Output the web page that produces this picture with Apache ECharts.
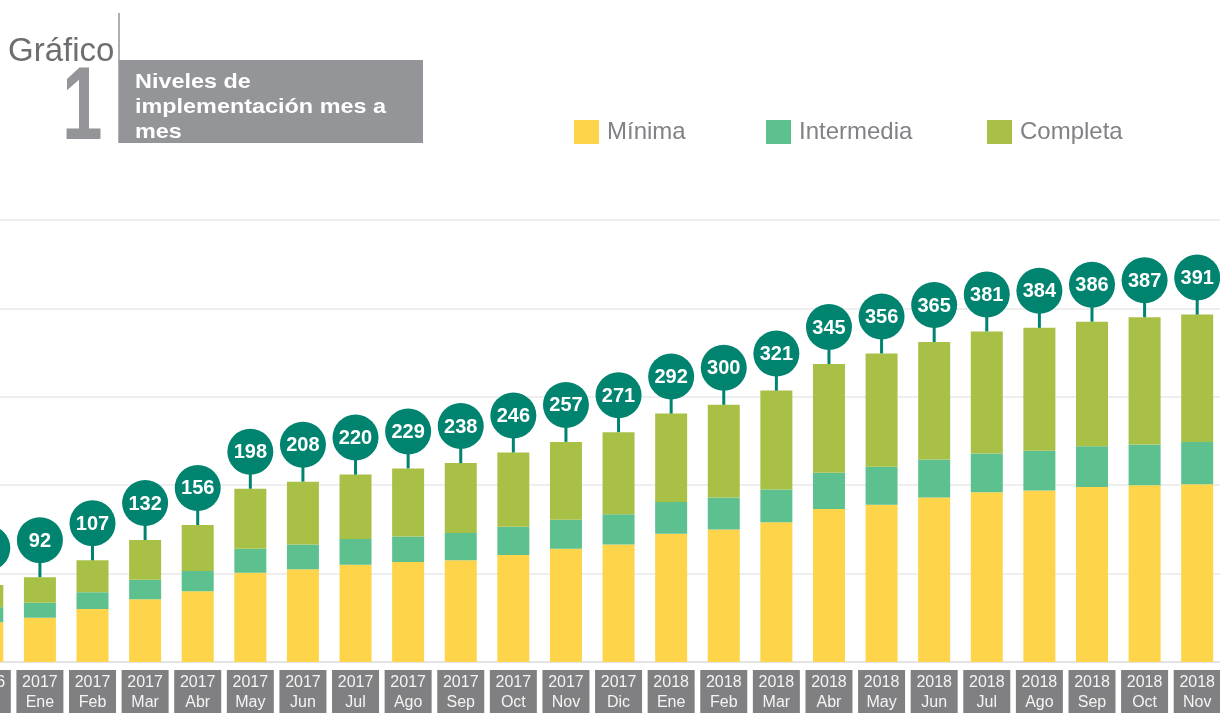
<!DOCTYPE html>
<html>
<head>
<meta charset="utf-8">
<title>Niveles de implementación mes a mes</title>
<script src="https://cdn.jsdelivr.net/npm/echarts@6/dist/echarts.min.js"></script>
<style>
  html, body { margin: 0; padding: 0; background: #fff; }
  #chart { width: 1220px; height: 713px; }
</style>
</head>
<body>
<div id="chart"></div>
<script>
// datos (dic 2016 - nov 2018)
var years = ['2016', '2017', '2017', '2017', '2017', '2017', '2017', '2017', '2017', '2017', '2017', '2017', '2017',
  '2018', '2018', '2018', '2018', '2018', '2018', '2018', '2018', '2018', '2018', '2018']
var months = ['Dic', 'Ene', 'Feb', 'Mar', 'Abr', 'May', 'Jun', 'Jul', 'Ago', 'Sep', 'Oct', 'Nov', 'Dic',
  'Ene', 'Feb', 'Mar', 'Abr', 'May', 'Jun', 'Jul', 'Ago', 'Sep', 'Oct', 'Nov']
var minima = [45, 50, 60, 71, 80, 101, 105, 110, 113, 115, 121, 128, 133,
  145, 150, 158, 173, 178, 186, 192, 194, 198, 200, 201]
var intermedia = [17, 17, 19, 22, 23, 27, 28, 29, 29, 31, 32, 33, 34,
  36, 36, 37, 41, 43, 43, 44, 45, 46, 46, 48]
var completa = [25, 29, 36, 45, 52, 68, 71, 73, 77, 79, 84, 88, 93,
  100, 105, 112, 123, 128, 133, 138, 139, 141, 144, 144]
var totales = [84, 92, 107, 132, 156, 198, 208, 220, 229, 238, 246, 257, 271,
  292, 300, 321, 345, 356, 365, 381, 384, 386, 387, 391]
var yTicks = [0, 100, 200, 300, 400, 500]

var categories = years.map(function (y, i) { return y + '\n' + months[i] })
var burbujas = categories.map(function (c, i) {
  return [i, minima[i] + intermedia[i] + completa[i], totales[i]]
})

var colores = {
  minima: '#fdd44a',
  intermedia: '#5dc18f',
  completa: '#a8c046',
  burbuja: '#00846f',
  gris: '#939598'
}

var chart = echarts.init(document.getElementById('chart'))

function leyenda (nombre, left) {
  return {
    data: [nombre],
    left: left,
    top: 120,
    padding: 0,
    itemWidth: 25,
    itemHeight: 24,
    icon: 'rect',
    selectedMode: false,
    textStyle: {
      color: '#808285',
      fontSize: 24,
      fontFamily: 'Liberation Sans',
      padding: [0, 0, 0, 3]
    }
  }
}

var option = {
  animation: false,
  backgroundColor: '#fff',
  textStyle: { fontFamily: 'Liberation Sans' },
  legend: [
    leyenda('Mínima', 574),
    leyenda('Intermedia', 766),
    leyenda('Completa', 987)
  ],
  grid: {
    left: -39,
    right: -3.5,
    top: 220,
    bottom: 51,
    outerBoundsMode: 'none',
    containLabel: false
  },
  xAxis: {
    type: 'category',
    data: categories,
    axisTick: { show: false },
    axisLine: { show: true, lineStyle: { color: '#e4e4e4', width: 2 } },
    axisLabel: {
      interval: 0,
      margin: 8,
      color: '#f4f4f4',
      fontSize: 16,
      lineHeight: 20,
      fontFamily: 'Liberation Sans',
      backgroundColor: '#808083',
      width: 47,
      height: 44,
      align: 'center',
      verticalAlign: 'top',
      padding: [3, 0, 0, 0]
    }
  },
  yAxis: {
    type: 'value',
    min: yTicks[0],
    max: yTicks[yTicks.length - 1],
    interval: 100,
    axisLabel: { show: false },
    axisLine: { show: false },
    axisTick: { show: false },
    splitLine: { lineStyle: { color: '#e8e8e8', width: 1.5 } }
  },
  graphic: [
    {
      type: 'text', left: 8, top: 35,
      style: { text: 'Gráfico', fill: '#6d6e71', font: '33px "Liberation Sans"' }
    },
    {
      type: 'text', x: 62, y: 58, scaleX: 0.7,
      style: { text: '1', fill: colores.gris, font: 'bold 104px "Liberation Sans"' }
    },
    {
      type: 'line',
      shape: { x1: 119, y1: 13, x2: 119, y2: 143 },
      style: { stroke: colores.gris, lineWidth: 1.5 }
    },
    {
      type: 'rect',
      shape: { x: 119, y: 60, width: 304, height: 83 },
      style: { fill: colores.gris }
    },
    {
      type: 'text', x: 135, y: 70, scaleX: 1.17,
      style: {
        text: 'Niveles de\nimplementación mes a\nmes',
        fill: '#ffffff',
        font: 'bold 20px "Liberation Sans"',
        lineHeight: 25
      }
    }
  ],
  series: [
    {
      name: 'Mínima',
      type: 'bar',
      stack: 'total',
      barWidth: 32,
      itemStyle: { color: colores.minima },
      data: minima
    },
    {
      name: 'Intermedia',
      type: 'bar',
      stack: 'total',
      barWidth: 32,
      itemStyle: { color: colores.intermedia },
      data: intermedia
    },
    {
      name: 'Completa',
      type: 'bar',
      stack: 'total',
      barWidth: 32,
      itemStyle: { color: colores.completa },
      data: completa
    },
    {
      name: 'totales',
      type: 'custom',
      encode: { x: 0, y: 1 },
      z: 5,
      data: burbujas,
      renderItem: function (params, api) {
        var p = api.coord([api.value(0), api.value(1)])
        var r = 23
        var stem = 14
        var cy = p[1] - stem - r
        return {
          type: 'group',
          children: [
            {
              type: 'line',
              shape: { x1: p[0], y1: p[1], x2: p[0], y2: cy },
              style: { stroke: colores.burbuja, lineWidth: 3 }
            },
            {
              type: 'circle',
              shape: { cx: p[0], cy: cy, r: r },
              style: { fill: colores.burbuja }
            },
            {
              type: 'text',
              style: {
                text: String(api.value(2)),
                x: p[0],
                y: cy + 1,
                align: 'center',
                verticalAlign: 'middle',
                fill: '#ffffff',
                font: 'bold 20px "Liberation Sans"'
              }
            }
          ]
        }
      }
    }
  ]
}

chart.setOption(option)
</script>
</body>
</html>
